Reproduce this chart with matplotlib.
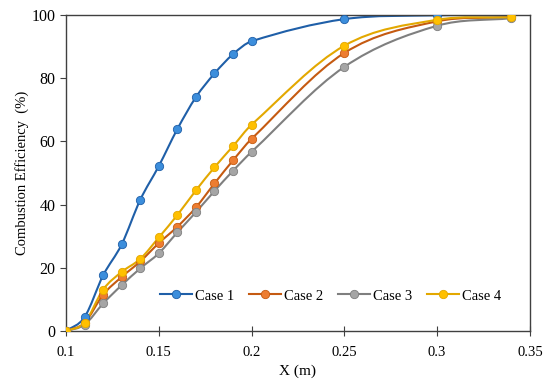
import numpy as np
import matplotlib.pyplot as plt
from matplotlib.path import Path
from matplotlib.patches import PathPatch

plt.rcParams['font.family'] = ['Liberation Serif', 'DejaVu Serif']

# Data
x = [0.10, 0.11, 0.12, 0.13, 0.14, 0.15, 0.16, 0.17, 0.18, 0.19, 0.20, 0.25, 0.30, 0.34]
case1 = [0, 4.4, 17.6, 27.4, 41.5, 52.2, 63.9, 74.0, 81.5, 87.6, 91.7, 98.7, 99.9, 99.9]
case2 = [0, 2.6, 11.5, 17.1, 22.0, 27.8, 33.0, 39.1, 46.7, 54.0, 60.8, 88.0, 98.0, 99.3]
case3 = [0, 2.0, 8.7, 14.5, 19.8, 24.6, 31.2, 37.6, 44.3, 50.7, 56.7, 83.6, 96.6, 99.0]
case4 = [0, 2.6, 13.1, 18.7, 22.8, 29.6, 36.7, 44.5, 51.8, 58.5, 65.3, 90.3, 98.5, 99.3]

labels = ['Case 1', 'Case 2', 'Case 3', 'Case 4']
series = [case1, case2, case3, case4]
line_colors = ['#1F5FA8', '#C55A11', '#7F7F7F', '#E3A800']
marker_colors = ['#3C8EDC', '#ED7D31', '#A5A5A5', '#FFC000']


def smooth_path(xs, ys):
    # smoothed line: cubic bezier segments, tangents scaled by x spacing
    p = np.column_stack([xs, ys]).astype(float)
    n = len(p)
    h = np.diff(p[:, 0])
    verts = [p[0]]
    codes = [Path.MOVETO]
    for i in range(n - 1):
        if i > 0:
            t0 = (p[i + 1] - p[i - 1]) / (h[i - 1] + h[i])
        else:
            t0 = (p[i + 1] - p[i]) / h[i]
        if i + 2 < n:
            t1 = (p[i + 2] - p[i]) / (h[i] + h[i + 1])
        else:
            t1 = (p[i + 1] - p[i]) / h[i]
        c1 = p[i] + t0 * h[i] / 3
        c2 = p[i + 1] - t1 * h[i] / 3
        verts += [c1, c2, p[i + 1]]
        codes += [Path.CURVE4] * 3
    return Path(verts, codes)


fig = plt.figure(figsize=(5.5, 3.91), dpi=100)
ax = fig.add_axes([0.12, 0.1535, 0.8436, 0.8081])

for ys, lab, lc, mc in zip(series, labels, line_colors, marker_colors):
    ax.add_patch(PathPatch(smooth_path(x, ys), facecolor='none', edgecolor=lc, lw=1.5, zorder=2))
    ax.plot(x, ys, ls='none', marker='o', ms=6, mfc=mc, mec=lc, mew=0.6, zorder=3)
    ax.plot([], [], color=lc, lw=1.5, marker='o', ms=6, mfc=mc, mec=lc, mew=0.6, label=lab)

ax.set_xlim(0.1, 0.35)
ax.set_ylim(0, 100)
ax.set_xticks(np.arange(0.1, 0.351, 0.05))
ax.set_xticklabels(['0.1', '0.15', '0.2', '0.25', '0.3', '0.35'])
ax.set_yticks(np.arange(0, 101, 20))

for s in ax.spines.values():
    s.set_color('#404040')
    s.set_linewidth(1.0)
ax.tick_params(axis='x', direction='inout', length=7, labelsize=10.5, color='#404040', pad=7)
ax.tick_params(axis='y', direction='out', length=4, labelsize=11.5, color='#404040')

ax.set_xlabel('X (m)', fontsize=11)
ax.set_ylabel('Combustion Efficiency  (%)', fontsize=10.5, labelpad=2)

ax.legend(loc='center', bbox_to_anchor=(0.57, 0.111), ncol=4, frameon=False,
          fontsize=10.5, handlelength=2.2, handletextpad=0.2, columnspacing=1.0)

fig.savefig('out.png', dpi=100)
